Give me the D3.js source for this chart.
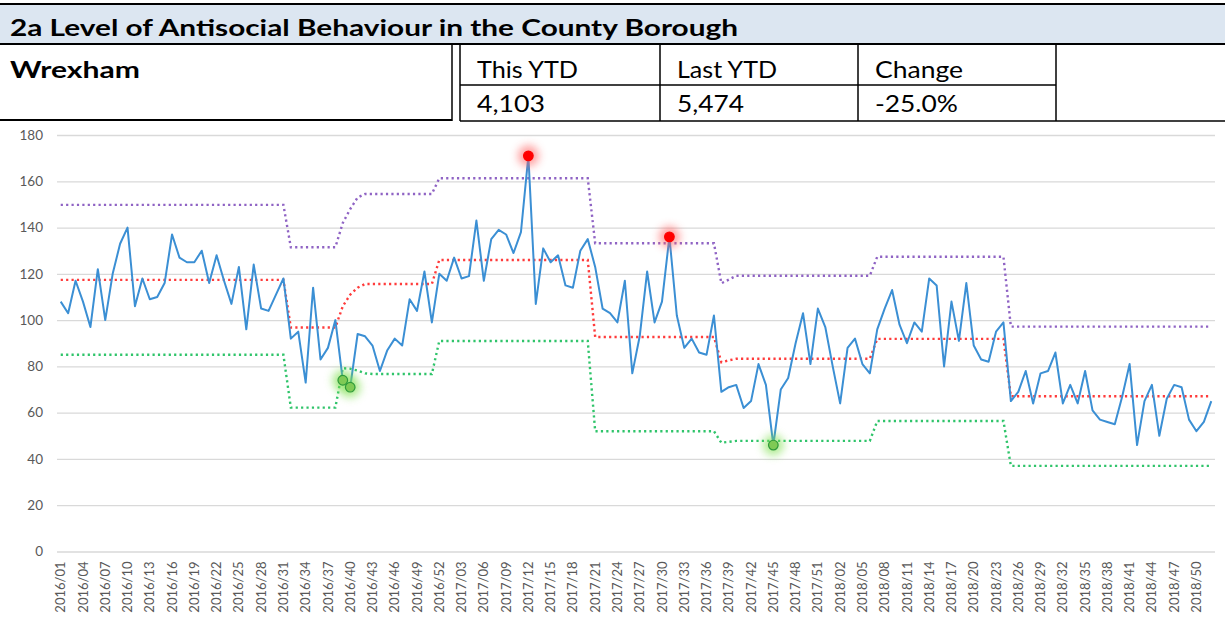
<!DOCTYPE html>
<html>
<head>
<meta charset="utf-8">
<script src="https://cdn.jsdelivr.net/npm/d3@7"></script>
<style>
  body { margin: 0; background: #fff; }
  text { font-family: Lato, "Open Sans", sans-serif; }
</style>
</head>
<body>
<svg id="chart"></svg>
<script>
// Header / summary values
var title = "2a Level of Antisocial Behaviour in the County Borough";
var area = "Wrexham";
var summaryHeads = ["This YTD", "Last YTD", "Change"];
var summaryValues = ["4,103", "5,474", "-25.0%"];

// Weeks 2016/01 .. 2018/52
var years = [2016, 2017, 2018];
var weeks = [];
years.forEach(function(y) {
  for (var w = 1; w <= 52; w++) weeks.push(y + "/" + (w < 10 ? "0" + w : w));
});

// weekly incidents
var incidents = [
  108,103,117,108,97,122,100,120,133,140,
  106,118,109,110,116,137,127,125,125,130,
  116,128,117,107,123,96,124,105,104,111,
  118,92,95,73,114,83,88,100,74,71,
  94,93,89,78,87,92,89,109,104,121,
  99,120,117,127,118,119,143,117,135,139,
  137,129,138,171,107,131,125,128,115,114,
  130,135,123,105,103,99,117,77,93,121,
  99,108,136,102,88,92,86,85,102,69,
  71,72,62,65,81,72,46,70,75,90,
  103,81,105,97,80,64,88,92,81,77,
  96,105,113,98,90,99,95,118,115,80,
  108,91,116,89,83,82,95,99,65,69,
  78,64,77,78,86,64,72,64,78,61,
  57,56,55,67,81,46,65,72,50,66,
  72,71,57,52,56,65
];

// control limits per week
var upperLimit = [
  149.8,149.8,149.8,149.8,149.8,149.8,149.8,149.8,149.8,149.8,149.8,149.8,149.8,149.8,149.8,149.8,
  149.8,149.8,149.8,149.8,149.8,149.8,149.8,149.8,149.8,149.8,149.8,149.8,149.8,149.8,149.8,
  131.5,131.5,131.5,131.5,131.5,131.5,131.5,
  142,148,153,
  154.5,154.5,154.5,154.5,154.5,154.5,154.5,154.5,154.5,154.5,
  161.3,161.3,161.3,161.3,161.3,161.3,161.3,161.3,161.3,161.3,161.3,
  161.3,161.3,161.3,161.3,161.3,161.3,161.3,161.3,161.3,161.3,
  133.2,133.2,133.2,133.2,133.2,133.2,133.2,133.2,133.2,133.2,133.2,133.2,133.2,133.2,133.2,133.2,133.2,
  115.9,117.5,
  119.2,119.2,119.2,119.2,119.2,119.2,119.2,119.2,119.2,119.2,
  119.2,119.2,119.2,119.2,119.2,119.2,119.2,119.2,119.2,
  127.4,127.4,127.4,127.4,127.4,127.4,127.4,127.4,127.4,
  127.4,127.4,127.4,127.4,127.4,127.4,127.4,127.4,127.4,
  97.2,97.2,97.2,97.2,97.2,97.2,97.2,97.2,97.2,97.2,97.2,97.2,97.2,97.2,
  97.2,97.2,97.2,97.2,97.2,97.2,97.2,97.2,97.2,97.2,97.2,97.2,97.2,97.2
];
var meanLine = [
  117.4,117.4,117.4,117.4,117.4,117.4,117.4,117.4,117.4,117.4,117.4,117.4,117.4,117.4,117.4,117.4,
  117.4,117.4,117.4,117.4,117.4,117.4,117.4,117.4,117.4,117.4,117.4,117.4,117.4,117.4,117.4,
  96.8,96.8,96.8,96.8,96.8,96.8,96.8,
  106,111,114,
  115.6,115.6,115.6,115.6,115.6,115.6,115.6,115.6,115.6,115.6,
  126,126,126,126,126,126,126,126,126,126,126,
  126,126,126,126,126,126,126,126,126,126,
  92.7,92.7,92.7,92.7,92.7,92.7,92.7,92.7,92.7,92.7,92.7,92.7,92.7,92.7,92.7,92.7,92.7,
  81.8,82.6,
  83.3,83.3,83.3,83.3,83.3,83.3,83.3,83.3,83.3,83.3,
  83.3,83.3,83.3,83.3,83.3,83.3,83.3,83.3,83.3,
  91.9,91.9,91.9,91.9,91.9,91.9,91.9,91.9,91.9,
  91.9,91.9,91.9,91.9,91.9,91.9,91.9,91.9,91.9,
  67.1,67.1,67.1,67.1,67.1,67.1,67.1,67.1,67.1,67.1,67.1,67.1,67.1,67.1,
  67.1,67.1,67.1,67.1,67.1,67.1,67.1,67.1,67.1,67.1,67.1,67.1,67.1,67.1
];
var lowerLimit = [
  85,85,85,85,85,85,85,85,85,85,85,85,85,85,85,85,
  85,85,85,85,85,85,85,85,85,85,85,85,85,85,85,
  62.2,62.2,62.2,62.2,62.2,62.2,62.2,
  79.2,79,78.2,
  77,76.7,76.7,76.7,76.7,76.7,76.7,76.7,76.7,76.7,
  91,91,91,91,91,91,91,91,91,91,91,
  91,91,91,91,91,91,91,91,91,91,
  52,52,52,52,52,52,52,52,52,52,52,52,52,52,52,52,52,
  47,47.4,
  47.8,47.8,47.8,47.8,47.8,47.8,47.8,47.8,47.8,47.8,
  47.8,47.8,47.8,47.8,47.8,47.8,47.8,47.8,47.8,
  56.4,56.4,56.4,56.4,56.4,56.4,56.4,56.4,56.4,
  56.4,56.4,56.4,56.4,56.4,56.4,56.4,56.4,56.4,
  37,37,37,37,37,37,37,37,37,37,37,37,37,37,
  37,37,37,37,37,37,37,37,37,37,37,37,37,37
];

// weeks flagged outside the limits
var highWeeks = ["2017/12", "2017/31"];
var lowWeeks = ["2016/39", "2016/40", "2017/45"];

var yTicks = [0, 20, 40, 60, 80, 100, 120, 140, 160, 180];

// SVG size
var svgWidth = 1225;
var svgHeight = 621;

var svg = d3.select("#chart")
  .attr("width", svgWidth)
  .attr("height", svgHeight);

// ---------- header table ----------
var header = svg.append("g");

header.append("rect")
  .attr("x", 0).attr("y", 4)
  .attr("width", svgWidth).attr("height", 40)
  .attr("fill", "#dce6f1");

// the picture's text is a little wide, so stretch to the widths it shows
function headText(str, x, y, width, bold) {
  header.append("text")
    .attr("x", x).attr("y", y)
    .attr("font-size", 23)
    .attr("font-weight", bold ? "bold" : "normal")
    .attr("fill", "#000")
    .attr("textLength", width)
    .attr("lengthAdjust", "spacingAndGlyphs")
    .text(str);
}

headText(title, 10, 36, 728, true);
headText(area, 10, 78, 130, true);

var cellX = [460, 660, 858, 1056];
var headWidths = [101, 100, 88];
var valueWidths = [68, 67, 83];
summaryHeads.forEach(function(h, i) {
  headText(h, cellX[i] + 17, 78, headWidths[i], false);
  headText(summaryValues[i], cellX[i] + 17, 112, valueWidths[i], false);
});

function hline(x1, x2, y, w) {
  header.append("line").attr("x1", x1).attr("x2", x2).attr("y1", y).attr("y2", y)
    .attr("stroke", "#000").attr("stroke-width", w);
}
function vline(x, y1, y2, w) {
  header.append("line").attr("x1", x).attr("x2", x).attr("y1", y1).attr("y2", y2)
    .attr("stroke", "#000").attr("stroke-width", w);
}
hline(0, svgWidth, 4, 2);
hline(0, svgWidth, 44, 2);
hline(cellX[0], cellX[3], 85, 1.5);
hline(0, 452, 120, 2);
hline(460, svgWidth, 121, 1.3);
vline(452, 44, 121, 1.5);
cellX.forEach(function(x) { vline(x, 44, 121, 1.5); });

// ---------- chart ----------
var margin = { top: 135, left: 57, right: 10, bottom: 69.5 };
var chartWidth = svgWidth - margin.left - margin.right;
var chartHeight = svgHeight - margin.top - margin.bottom;

var chartGroup = svg.append("g")
  .attr("transform", `translate(${margin.left}, ${margin.top})`);

var xScale = d3.scaleBand()
  .domain(weeks)
  .range([0, chartWidth]);

var yScale = d3.scaleLinear()
  .domain([0, 180])
  .range([chartHeight, 0]);

var xPos = function(d, i) { return xScale(weeks[i]) + xScale.bandwidth() / 2; };

// gridlines + y labels
var leftAxis = d3.axisLeft(yScale)
  .tickValues(yTicks)
  .tickSize(-chartWidth)
  .tickPadding(14);

var yAxisG = chartGroup.append("g").call(leftAxis);
yAxisG.select(".domain").remove();
yAxisG.selectAll(".tick line").attr("stroke", "#d9d9d9").attr("stroke-width", 1.3);
yAxisG.selectAll(".tick text")
  .attr("fill", "#595959")
  .attr("font-size", 13.5)
  .style("font-family", "Lato, sans-serif");

// x labels every 3rd week
var bottomAxis = d3.axisBottom(xScale)
  .tickValues(weeks.filter(function(d, i) { return i % 3 === 0; }))
  .tickSize(0);

var xAxisG = chartGroup.append("g")
  .attr("transform", `translate(0, ${chartHeight})`)
  .call(bottomAxis);
xAxisG.select(".domain").remove();
xAxisG.selectAll(".tick text")
  .attr("fill", "#595959")
  .attr("font-size", 13)
  .style("font-family", "Lato, sans-serif")
  .style("text-anchor", "end")
  .attr("transform", "rotate(-90)")
  .attr("x", -10)
  .attr("y", 0)
  .attr("dy", "0.35em");

// control limit lines
var drawLine = d3.line()
  .x(xPos)
  .y(function(d) { return yScale(d); });

var limits = [
  { values: upperLimit, color: "#8f63c4" },
  { values: meanLine, color: "#ff3b3b" },
  { values: lowerLimit, color: "#2fc46a" }
];
limits.forEach(function(l) {
  chartGroup.append("path")
    .attr("d", drawLine(l.values))
    .attr("fill", "none")
    .attr("stroke", l.color)
    .attr("stroke-width", 2.4)
    .attr("stroke-dasharray", "2.2,3.2");
});

// weekly series
chartGroup.append("path")
  .attr("d", drawLine(incidents))
  .attr("fill", "none")
  .attr("stroke", "#3b8fd4")
  .attr("stroke-width", 2)
  .attr("stroke-linejoin", "round");

// glow filter
var defs = svg.append("defs");
defs.append("filter").attr("id", "glow")
  .attr("x", "-100%").attr("y", "-100%").attr("width", "300%").attr("height", "300%")
  .append("feGaussianBlur").attr("stdDeviation", 4);

function markWeeks(list, glowColor, fill, stroke) {
  var pts = list.map(function(w) { return { week: w, value: incidents[weeks.indexOf(w)] }; });
  chartGroup.selectAll(null).data(pts).enter().append("circle")
    .attr("cx", function(d) { return xScale(d.week) + xScale.bandwidth() / 2; })
    .attr("cy", function(d) { return yScale(d.value); })
    .attr("r", 10.5)
    .attr("fill", glowColor)
    .attr("opacity", 0.6)
    .attr("filter", "url(#glow)");
  chartGroup.selectAll(null).data(pts).enter().append("circle")
    .attr("cx", function(d) { return xScale(d.week) + xScale.bandwidth() / 2; })
    .attr("cy", function(d) { return yScale(d.value); })
    .attr("r", 4.8)
    .attr("fill", fill)
    .attr("stroke", stroke)
    .attr("stroke-width", 1.2);
}
markWeeks(highWeeks, "#ff6060", "#ff0000", "#ff0000");
markWeeks(lowWeeks, "#7ddf4c", "#7fca55", "#2e9a3a");
</script>
</body>
</html>
